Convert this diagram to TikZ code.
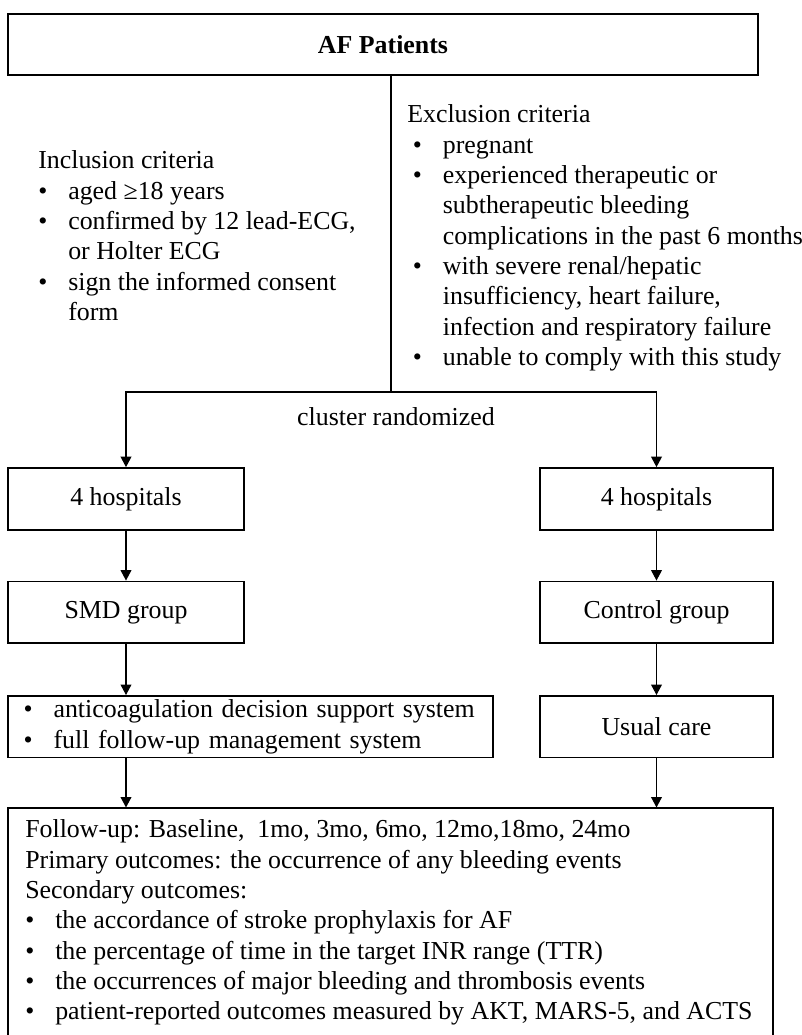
\documentclass[tikz,border=0pt]{standalone}
\usepackage{fontspec}
\setmainfont{Liberation Serif}
\usetikzlibrary{arrows.meta, positioning}
\newcommand{\flowfont}{\fontsize{18.4pt}{21.6pt}\selectfont}
\newcommand{\bul}{\makebox[0.75cm][l]{\textbullet}}
\newcommand{\cont}{\hspace*{0.75cm}}
\begin{document}
\begin{tikzpicture}[x=0.025cm, y=-0.025cm, every node/.style={font=\flowfont},
    box/.style={draw, line width=1.3pt, inner sep=0pt, align=center, minimum height=1.54cm},
    lcol/.style={box, minimum width=5.9cm},
    rcol/.style={box, minimum width=5.825cm},
    link/.style={line width=0.75pt},
    arr/.style={link, -{Triangle[length=0.26cm, width=0.27cm]}}]
    \useasboundingbox (0,0) rectangle (802,1035);

    \node[box, minimum width=18.75cm, minimum height=1.525cm, font=\flowfont\bfseries] (AF) at (383,44.5) {AF Patients};
    \coordinate (split) at (391,392);

    \node[anchor=north west, align=left, inner sep=0pt] (incl) at (38,150.5) {Inclusion criteria\\
        \bul aged ≥18 years\\
        \bul confirmed by 12 lead-ECG,\\
        \cont or Holter ECG\\
        \bul sign the informed consent\\
        \cont form};
    \node[anchor=north west, align=left, inner sep=0pt] (excl) at (407,104.5) {Exclusion criteria\\
        \hspace*{0.14cm}\bul pregnant\\
        \hspace*{0.14cm}\bul experienced therapeutic or\\
        \hspace*{0.14cm}\cont subtherapeutic bleeding\\
        \hspace*{0.14cm}\cont complications in the past 6 months\\
        \hspace*{0.14cm}\bul with severe renal/hepatic\\
        \hspace*{0.14cm}\cont insufficiency, heart failure,\\
        \hspace*{0.14cm}\cont infection and respiratory failure\\
        \hspace*{0.14cm}\bul unable to comply with this study};

    \node (rand) at (396,417) {cluster randomized};

    \node[lcol] (hospL) at (126,498.8) {4 hospitals};
    \node[rcol] (hospR) at (656.5,498.8) {4 hospitals};
    \node[lcol, below=1.25cm of hospL] (smd) {SMD group};
    \node[rcol, below=1.25cm of hospR] (ctrl) {Control group};
    \node[box, below=1.275cm of smd.south west, anchor=north west, minimum width=12.125cm,
        text width=11.35cm, inner xsep=0.39cm, align=left] (supp) {\bul anticoagulation decision support system\\
        \bul full follow-up management system};
    \node[rcol, below=1.275cm of ctrl] (usual) {Usual care};

    \node[box, below=1.225cm of supp.south west, anchor=north west, minimum width=19.125cm, minimum height=6.2cm] (fu) {};
    \node[anchor=north west, align=left, inner sep=0pt] (futext) at (25,819.5) {Follow-up: Baseline,~ 1mo, 3mo, 6mo, 12mo,18mo, 24mo\\
        Primary outcomes: the occurrence of any bleeding events\\
        Secondary outcomes:\\
        \bul the accordance of stroke prophylaxis for AF\\
        \bul the percentage of time in the target INR range (TTR)\\
        \bul the occurrences of major bleeding and thrombosis events\\
        \bul patient-reported outcomes measured by AKT, MARS-5, and ACTS};

    \draw[link] (AF.south -| split) -- (split);
    \draw[arr] (split) -| (hospL.north);
    \draw[arr] (split) -| (hospR.north);
    \draw[arr] (hospL) -- (smd);
    \draw[arr] (smd) -- (smd |- supp.north);
    \draw[arr] (supp.south -| smd) -- (fu.north -| smd);
    \draw[arr] (hospR) -- (ctrl);
    \draw[arr] (ctrl) -- (usual);
    \draw[arr] (usual) -- (fu.north -| usual);
\end{tikzpicture}
\end{document}
